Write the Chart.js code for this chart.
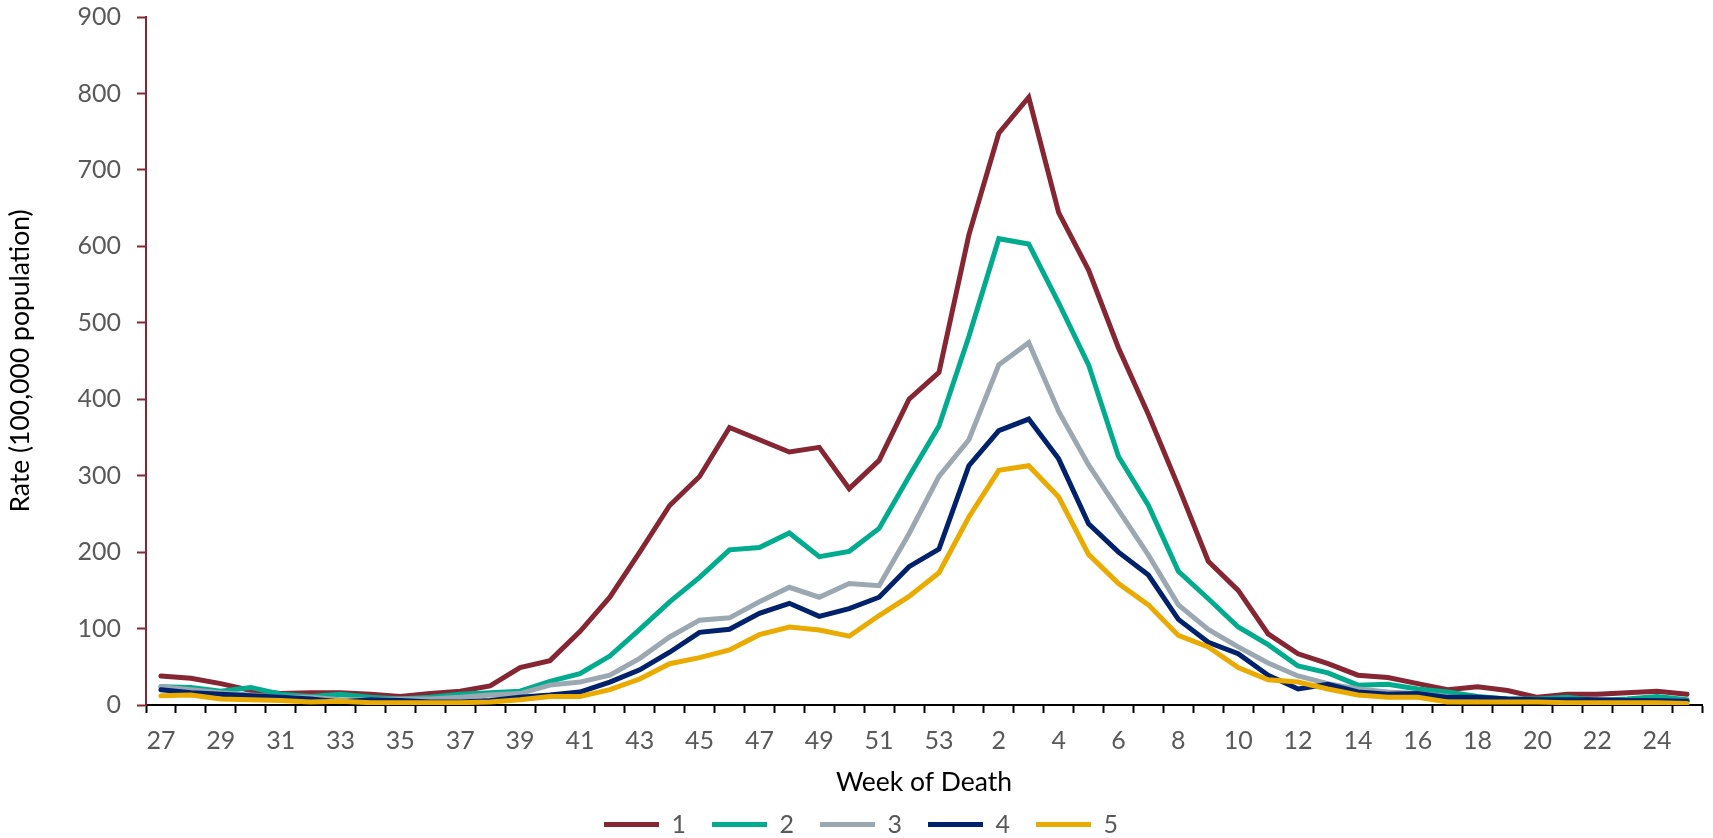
<!DOCTYPE html>
<html>
<head>
<meta charset="utf-8">
<script src="https://cdn.jsdelivr.net/npm/chart.js@4.4.1/dist/chart.umd.min.js"></script>
<style>
  html, body { margin: 0; padding: 0; background: #fff; }
  #wrap { width: 1713px; height: 838px; }
</style>
</head>
<body>
<div id="wrap"><canvas id="grafico"></canvas></div>
<script>
// weeks 27..53 then 1..25
const semanas = ['27','28','29','30','31','32','33','34','35','36','37','38','39','40','41','42','43','44','45','46','47','48','49','50','51','52','53',
  '1','2','3','4','5','6','7','8','9','10','11','12','13','14','15','16','17','18','19','20','21','22','23','24','25'];

const serie1 = [38,35,28,19,15,16,16,14,11,15,18,25,49,58,96,141,200,261,299,363,347,331,337,283,320,400,435,
  615,748,795,644,569,467,380,286,188,150,93,67,54,39,36,28,20,24,19,10,14,14,16,18,14];
const serie2 = [24,23,18,23,14,11,14,10,8,10,14,16,18,31,41,64,99,135,167,203,206,225,194,201,231,299,365,
  482,610,603,526,445,325,261,175,139,102,79,51,42,26,27,21,17,11,8,8,10,6,8,11,7];
const serie3 = [24,20,16,13,10,10,7,7,8,8,10,13,15,26,30,39,61,89,111,114,135,154,141,159,156,224,299,
  347,445,474,384,314,255,196,131,99,76,55,38,28,21,17,15,11,8,6,5,4,5,5,6,5];
const serie4 = [20,16,14,12,10,8,4,7,6,4,4,6,10,13,17,30,46,69,95,99,120,133,116,126,141,181,204,
  313,359,374,322,237,200,170,112,82,67,39,21,27,17,14,15,10,10,8,7,7,7,6,6,5];
const serie5 = [12,13,8,7,6,4,5,3,3,3,3,4,7,11,11,20,34,54,62,72,92,102,98,90,117,142,173,
  246,307,313,272,197,159,131,91,76,49,33,30,21,13,10,10,4,4,4,4,3,3,3,3,2];

const nomes = ['1', '2', '3', '4', '5'];
const cores = ['#862633', '#00AB8E', '#9BA8B1', '#00216B', '#EAAA00'];
const yTicks = [0, 100, 200, 300, 400, 500, 600, 700, 800, 900];

const fonte = 'Lato, "Open Sans", sans-serif';

const series = [serie1, serie2, serie3, serie4, serie5];
const datasets = series.map((d, i) => ({
  label: nomes[i],
  data: d,
  borderColor: cores[i],
  backgroundColor: cores[i],
  borderWidth: 5,
  borderCapStyle: 'round',
  borderJoinStyle: 'miter',
  pointRadius: 0,
  tension: 0,
  order: series.length - i
}));

const ctx = document.getElementById('grafico').getContext('2d');
let grafico = new Chart(ctx, {
  type: 'line',
  data: { labels: semanas, datasets: datasets },
  options: {
    responsive: true,
    maintainAspectRatio: false,
    animation: false,
    layout: { padding: { top: 17, right: 11, left: 20, bottom: 0 } },
    plugins: {
      tooltip: { enabled: false },
      legend: {
        display: true,
        position: 'bottom',
        maxHeight: 52,
        labels: {
          usePointStyle: true,
          pointStyle: 'line',
          pointStyleWidth: 55,
          padding: 26,
          color: '#595959',
          font: { family: fonte, size: 25 },
          sort: (a, b) => a.datasetIndex - b.datasetIndex
        }
      }
    },
    scales: {
      x: {
        type: 'category',
        offset: true,
        grid: {
          display: true,
          offset: true,
          drawOnChartArea: false,
          drawTicks: true,
          tickLength: 8,
          tickWidth: 2,
          tickColor: '#000000'
        },
        border: { display: true, color: '#000000', width: 2 },
        ticks: {
          autoSkip: false,
          maxRotation: 0,
          padding: 13,
          color: '#595959',
          font: { family: fonte, size: 25 },
          callback: function (val, idx) { return idx % 2 === 0 ? semanas[idx] : ''; }
        },
        title: {
          display: true,
          text: 'Week of Death',
          color: '#000000',
          font: { family: fonte, size: 26.5, lineHeight: 1 },
          padding: { top: 0, bottom: -10 }
        },
        afterFit: (s) => { s.height = 81; s.paddingTop = 0; }
      },
      y: {
        min: 0,
        max: 900,
        afterBuildTicks: (s) => { s.ticks = yTicks.map(v => ({ value: v })); },
        grid: {
          display: true,
          drawOnChartArea: false,
          drawTicks: true,
          tickLength: 9,
          tickWidth: 2,
          tickColor: '#862633'
        },
        border: { display: true, color: '#862633', width: 2 },
        ticks: {
          padding: 16,
          color: '#595959',
          font: { family: fonte, size: 25 }
        },
        title: {
          display: true,
          text: 'Rate (100,000 population)',
          color: '#000000',
          font: { family: fonte, size: 26.5, lineHeight: 1 },
          padding: { top: -13, bottom: 0 }
        },
        afterFit: (s) => { s.width = 126; s.paddingTop = 0; s.paddingBottom = 0; }
      }
    }
  }
});
</script>
</body>
</html>
